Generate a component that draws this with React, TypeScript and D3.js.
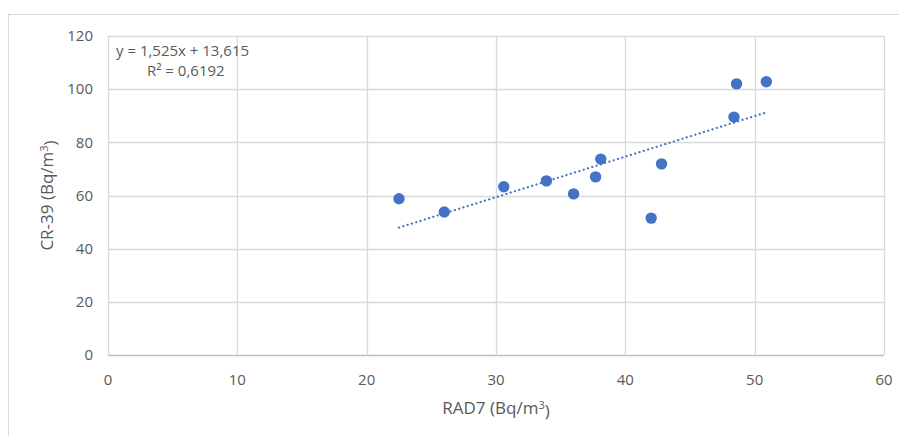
import React from "react";
import * as d3 from "d3";

// RAD7 vs CR-39 measurements (Bq/m³)
const rad7 = [22.5, 26.0, 30.6, 33.9, 36.0, 37.7, 38.1, 42.0, 42.8, 48.4, 48.6, 50.9];
const cr39 = [58.8, 53.8, 63.3, 65.5, 60.6, 67.0, 73.7, 51.5, 71.9, 89.5, 102.0, 102.8];
const xTicks = [0, 10, 20, 30, 40, 50, 60];
const yTicks = [0, 20, 40, 60, 80, 100, 120];
const slope = 1.525;
const intercept = 13.615;
const equationLabel = "y = 1,525x + 13,615";
const r2Label = "R² = 0,6192";

const W = 899;
const H = 436;
const margin = { top: 36, right: 15, bottom: 81, left: 108 };
const font = "'Open Sans', sans-serif";
const textColor = "#595959";
const blue = "#4472C4";

const App = () => {
  const x = d3.scaleLinear().domain([0, 60]).range([margin.left, W - margin.right]);
  const y = d3.scaleLinear().domain([0, 120]).range([H - margin.bottom, margin.top]);

  const points = rad7.map((v, i) => ({ x: v, y: cr39[i] }));
  const [xMin, xMax] = d3.extent(rad7) as [number, number];
  const trend = d3
    .line<number>()
    .x((d) => x(d))
    .y((d) => y(slope * d + intercept));

  return (
    <div style={{ position: "absolute", left: 0, top: 0 }}>
      <svg width={W} height={H} style={{ display: "block", background: "#fff" }}>
        {/* chart frame */}
        <rect x={8.5} y={14.5} width={W} height={H} fill="none" stroke="#d9d9d9" />

        {/* gridlines */}
        {yTicks.map((t) => (
          <line
            key={"gy" + t}
            x1={x(0)}
            x2={x(60)}
            y1={Math.round(y(t)) + 0.5}
            y2={Math.round(y(t)) + 0.5}
            stroke={t === 0 ? "#bfbfbf" : "#d9d9d9"}
            strokeWidth={1.3}
          />
        ))}
        {xTicks.map((t) => (
          <line
            key={"gx" + t}
            x1={Math.round(x(t)) + 0.5}
            x2={Math.round(x(t)) + 0.5}
            y1={y(120)}
            y2={y(0)}
            stroke="#d9d9d9"
            strokeWidth={1.3}
          />
        ))}

        {/* tick labels */}
        {yTicks.map((t) => (
          <text
            key={"ly" + t}
            x={x(0) - 15}
            y={y(t)}
            dy="0.35em"
            textAnchor="end"
            fontFamily={font}
            fontSize={15}
            fill={textColor}
          >
            {t}
          </text>
        ))}
        {xTicks.map((t) => (
          <text
            key={"lx" + t}
            x={x(t)}
            y={y(0) + 25}
            dy="0.35em"
            textAnchor="middle"
            fontFamily={font}
            fontSize={15}
            fill={textColor}
          >
            {t}
          </text>
        ))}

        {/* axis titles */}
        <text
          x={(x(0) + x(60)) / 2}
          y={y(0) + 53}
          dy="0.35em"
          textAnchor="middle"
          fontFamily={font}
          fontSize={17}
          fill={textColor}
        >
          RAD7 (Bq/m<tspan dy="-0.45em" fontSize={11}>3</tspan>
          <tspan dy="0.45em">)</tspan>
        </text>
        <text
          transform={`translate(47,${(y(0) + y(120)) / 2}) rotate(-90)`}
          dy="0.35em"
          textAnchor="middle"
          fontFamily={font}
          fontSize={17}
          fill={textColor}
        >
          CR-39 (Bq/m<tspan dy="-0.45em" fontSize={11}>3</tspan>
          <tspan dy="0.45em">)</tspan>
        </text>

        {/* trendline */}
        <path
          d={trend([xMin, xMax]) ?? ""}
          fill="none"
          stroke={blue}
          strokeWidth={2.2}
          strokeDasharray="0.1 4.4"
          strokeLinecap="round"
        />

        {/* points */}
        {points.map((p, i) => (
          <circle key={i} cx={x(p.x)} cy={y(p.y)} r={5.7} fill={blue} />
        ))}

        {/* regression label */}
        <text x={116} y={51} dy="0.35em" fontFamily={font} fontSize={15} fill={textColor}>
          {equationLabel}
        </text>
        <text x={147} y={71} dy="0.35em" fontFamily={font} fontSize={15} fill={textColor}>
          {r2Label}
        </text>
      </svg>
    </div>
  );
};

export default App;
